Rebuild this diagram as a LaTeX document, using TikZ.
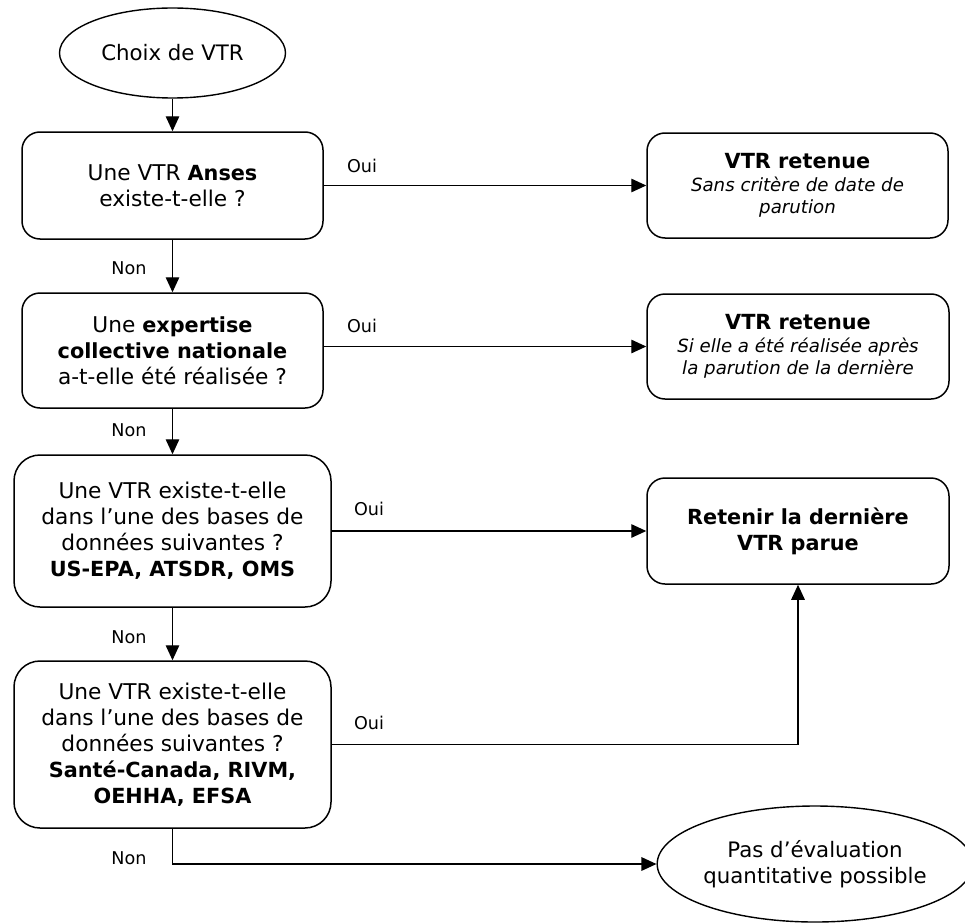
\documentclass[tikz,border=0pt]{standalone}
\usepackage{fontspec}
\setmainfont{DejaVu Sans}
\usetikzlibrary{arrows.meta,shapes.geometric}
\newcommand\bt[1]{{\fontsize{20.8}{26}\selectfont\bfseries #1}}
\newcommand\btn[1]{{\fontsize{20.8}{22.5}\selectfont\bfseries #1}}
\begin{document}
\begin{tikzpicture}[x=1pt,y=-1pt,
  box/.style={draw,line width=1.5pt,rounded corners=18pt,align=center,inner sep=0pt,font=\fontsize{21.7}{26}\selectfont},
  bigbox/.style={box,rounded corners=26pt},
  notebox/.style={box,font=\fontsize{18.2}{22.5}\selectfont},
  oval/.style={draw,ellipse,line width=1.4pt,align=center,inner sep=0pt,font=\fontsize{21.3}{26}\selectfont},
  conn/.style={line width=1.4pt,-{Triangle[length=15pt,width=13.5pt]}},
  lbl/.style={font=\fontsize{17.6}{21}\selectfont,inner sep=0pt}
]
\useasboundingbox (0,0) rectangle (965,923);

\node[oval,minimum width=226pt,minimum height=90pt] (e1) at (172.5,53) {Choix de VTR};

\node[box,minimum width=301pt,minimum height=107pt] (b1) at (172.5,185.5)
  {Une VTR \bt{Anses}\\existe-t-elle ?};
\node[box,minimum width=301pt,minimum height=115pt] (b2) at (172.5,350.5)
  {Une \bt{expertise}\\\bt{collective nationale}\\a-t-elle été réalisée ?};
\node[bigbox,minimum width=317pt,minimum height=152pt] (b3) at (172.5,531)
  {Une VTR existe-t-elle\\dans l’une des bases de\\données suivantes ?\\\bt{US-EPA, ATSDR, OMS}};
\node[bigbox,minimum width=317pt,minimum height=167pt] (b4) at (172.5,744.5)
  {Une VTR existe-t-elle\\dans l’une des bases de\\données suivantes ?\\\bt{Santé-Canada, RIVM,}\\\bt{OEHHA, EFSA}};

\node[notebox,minimum width=301pt,minimum height=105pt] (r1) at (797.5,185.5)
  {\btn{VTR retenue}\\\itshape Sans critère de date de\\\itshape parution};
\node[notebox,minimum width=302pt,minimum height=105pt] (r2) at (798,346.5)
  {\btn{VTR retenue}\\\itshape Si elle a été réalisée après\\\itshape la parution de la dernière};
\node[box,minimum width=302pt,minimum height=106pt] (r3) at (798,531)
  {\bt{Retenir la dernière}\\\bt{VTR parue}};

\node[oval,minimum width=300pt,minimum height=116pt] (e2) at (815,864)
  {Pas d’évaluation\\quantitative possible};

\draw[conn] (e1.south) -- (b1.north);
\draw[conn] (b1.south) -- (b2.north);
\draw[conn] (b2.south) -- (b3.north);
\draw[conn] (b3.south) -- (b4.north);

\draw[conn] (b1.east) -- (r1.west);
\draw[conn] (r2.west -| b2.east) -- (r2.west);
\draw[conn] (b3.east) -- (r3.west);
\draw[conn] (b4.east) -| (r3.south);
\draw[conn] (b4.south) |- (e2.west);

\node[lbl] (o1) at (362,166) {Oui};
\node[lbl] (o2) at (362,326) {Oui};
\node[lbl] (o3) at (369,509) {Oui};
\node[lbl] (o4) at (369,723) {Oui};

\node[lbl] (n1) at (129,268) {Non};
\node[lbl] (n2) at (129,430) {Non};
\node[lbl] (n3) at (129,637) {Non};
\node[lbl] (n4) at (129,858) {Non};
\end{tikzpicture}
\end{document}
